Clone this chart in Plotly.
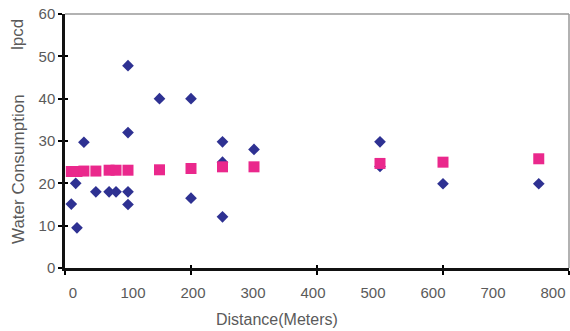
import plotly.graph_objects as go

# Observed water consumption (blue diamonds)
blue_x = [10, 17, 19, 30, 49, 70, 81, 100, 100, 100, 100, 150, 200, 200, 250, 250, 250, 300, 500, 500, 600, 752]
blue_y = [15.1, 20.0, 9.5, 29.7, 18.0, 18.0, 18.0, 47.8, 32.0, 18.0, 15.0, 40.0, 40.0, 16.5, 29.8, 25.0, 12.1, 28.0, 29.8, 24.0, 19.9, 19.9]

# Fitted values (pink squares)
pink_x = [10, 17, 19, 30, 49, 70, 81, 100, 150, 200, 250, 300, 500, 600, 752]
pink_y = [22.8, 22.8, 22.8, 22.9, 22.9, 23.1, 23.1, 23.1, 23.2, 23.5, 23.9, 23.9, 24.7, 25.0, 25.8]

x_labels = [0, 100, 200, 300, 400, 500, 600, 700, 800]
x_major = [0, 200, 400, 600, 800]
y_ticks = [0, 10, 20, 30, 40, 50, 60]

FONT = "Liberation Sans"
GREY = "#5a5a5a"

fig = go.Figure()
fig.add_trace(go.Scatter(x=blue_x, y=blue_y, mode="markers",
                         marker=dict(symbol="diamond", size=9, color="#2E3192"),
                         showlegend=False, cliponaxis=False))
fig.add_trace(go.Scatter(x=pink_x, y=pink_y, mode="markers",
                         marker=dict(symbol="square", size=11, color="#EA288C"),
                         showlegend=False, cliponaxis=False))
# invisible traces for overlay axes
fig.add_trace(go.Scatter(x=[0], y=[0], xaxis="x2", yaxis="y2", mode="markers",
                         marker=dict(opacity=0), showlegend=False, hoverinfo="skip"))
fig.add_trace(go.Scatter(x=[0], y=[0], xaxis="x3", yaxis="y2", mode="markers",
                         marker=dict(opacity=0), showlegend=False, hoverinfo="skip"))

fig.update_layout(
    width=570, height=331,
    margin=dict(l=65, r=1, t=14, b=63),
    paper_bgcolor="white", plot_bgcolor="white",
    font=dict(family=FONT, color=GREY, size=15),
    xaxis=dict(range=[0, 800], tickvals=x_major, showticklabels=False,
               ticks="outside", ticklen=4, tickwidth=2, tickcolor="black",
               showgrid=False, zeroline=False, showline=True, linecolor="#111111", linewidth=2.5),
    yaxis=dict(range=[0, 60], tickvals=y_ticks, ticks="outside", ticklen=4, tickwidth=2, tickcolor="black",
               showgrid=False, zeroline=False, showline=True, linecolor="#111111", linewidth=2.5,
               tickfont=dict(family=FONT, size=15, color=GREY)),
    xaxis2=dict(range=[0, 800], overlaying="x", tickvals=x_major, showticklabels=False,
                ticks="inside", ticklen=3, tickwidth=2, tickcolor="black", showgrid=False, zeroline=False,
                showline=False),
    xaxis3=dict(range=[-13.33, 826.67], overlaying="x", tickvals=x_labels,
                ticktext=[str(v) for v in x_labels], ticks="", showgrid=False, zeroline=False,
                showline=False, tickfont=dict(family=FONT, size=15, color=GREY), ticklabelstandoff=14),
    yaxis2=dict(range=[0, 60], overlaying="y", tickvals=y_ticks, showticklabels=False,
                ticks="inside", ticklen=3, tickwidth=2, tickcolor="black", showgrid=False, zeroline=False,
                showline=False),
    shapes=[
        dict(type="line", xref="paper", yref="paper", x0=0, x1=1, y0=1, y1=1,
             line=dict(color="#999999", width=1.5)),
        dict(type="line", xref="paper", yref="paper", x0=1, x1=1, y0=0, y1=1,
             line=dict(color="#999999", width=1.5)),
    ],
    annotations=[
        dict(text="Distance(Meters)", xref="paper", yref="paper", x=(277 - 65) / 504, y=-(319 - 268) / 254,
             showarrow=False, xanchor="center", yanchor="middle",
             font=dict(family=FONT, size=16, color=GREY)),
        dict(text="Water Consumption", xref="paper", yref="paper", x=-(65 - 18) / 504, y=(268 - 169) / 254,
             showarrow=False, xanchor="center", yanchor="middle", textangle=-90,
             font=dict(family=FONT, size=17, color=GREY)),
        dict(text="lpcd", xref="paper", yref="paper", x=-(65 - 18) / 504, y=(268 - 35) / 254,
             showarrow=False, xanchor="center", yanchor="middle", textangle=-90,
             font=dict(family=FONT, size=17, color=GREY)),
    ],
)

fig.write_html("out.html")
